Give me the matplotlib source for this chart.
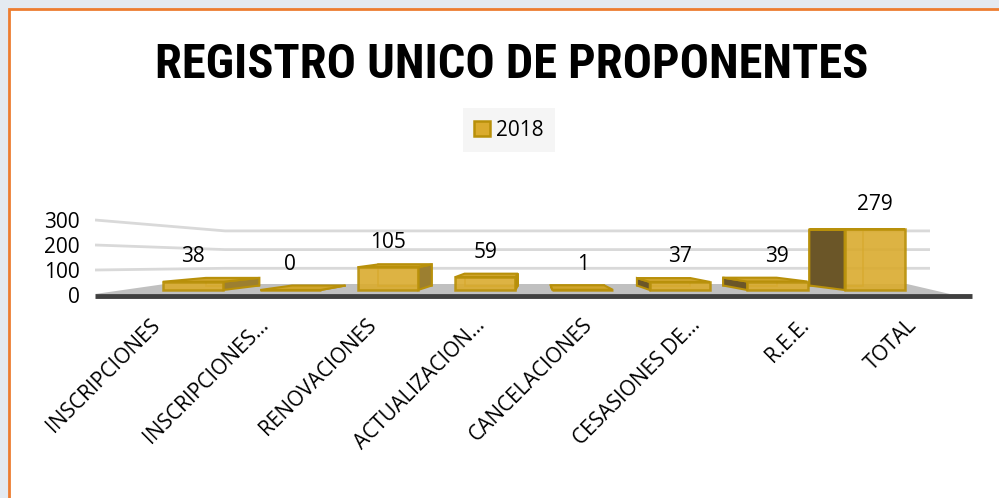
import matplotlib
matplotlib.use("Agg")
import matplotlib.pyplot as plt
from matplotlib.patches import Polygon, Rectangle
from matplotlib import font_manager as fm

# ---------------- data ----------------
categories = ["INSCRIPCIONES", "INSCRIPCIONES...", "RENOVACIONES",
              "ACTUALIZACION...", "CANCELACIONES", "CESASIONES DE...",
              "R.E.E.", "TOTAL"]
values_2018 = [38, 0, 105, 59, 1, 37, 39, 279]
series_name = "2018"
yticks = [0, 100, 200, 300]
title = "REGISTRO UNICO DE PROPONENTES"

# ---------------- style ----------------
plt.rcParams["font.family"] = ["Open Sans", "DejaVu Sans"]
FRONT = "#DAAB2E"
EDGE = "#B8900A"
TOP = "#D0A52C"
SIDE_R = "#9C7F30"
SIDE_L = "#6B5628"

W, H = 999, 498
fig = plt.figure(figsize=(W / 100, H / 100), dpi=100)

# frame / background
fig.patches.append(Rectangle((0, 0), 1, 1, transform=fig.transFigure,
                             facecolor="#e4eaf1", edgecolor="none", zorder=-10))
fig.patches.append(Rectangle((9 / W, -0.1), 1.1, (H - 9) / H + 0.1,
                             transform=fig.transFigure, facecolor="white",
                             edgecolor="#ED7D31", linewidth=2, zorder=-9))

# layout constants (pixels)
X0, DX = 193.0, 97.4      # first category centre, category spacing
Y0, SY = 290.0, 0.217     # base line, px per unit of value
ax = fig.add_axes([95 / W, (H - 300) / H, 880 / W, 120 / H])
ax.set_xlim((95 - X0) / DX, (975 - X0) / DX)
ax.set_ylim((Y0 - 300) / SY, (Y0 - 180) / SY)
ax.patch.set_visible(False)
for s in ax.spines.values():
    s.set_visible(False)

def px_x(p):
    return (p - X0) / DX

def px_y(p):
    return (Y0 - p) / SY

# perspective of the pseudo 3-D bars
XV, YV, KX, KY = 3.54, 276.0, 0.115, 0.075

def back(x, y):
    return (x + (XV - x) * KX, y + (YV - y) * KY)

# walls: gridlines
def wall_left(t):
    return px_y(295 - 0.25 * t)

def wall_back(t):
    return px_y(287 - 0.187 * t)

xl, xc, xr = ax.get_xlim()[0], px_x(225), px_x(930)
for t in yticks[1:]:
    ax.plot([xl, xc, xr], [wall_left(t), wall_back(t), wall_back(t)],
            color="#d9d9d9", lw=2, zorder=0.5, solid_capstyle="butt")

# floor
floor = Polygon([(xl, px_y(294)), (px_x(950), px_y(294)),
                 (px_x(907), px_y(284)), (px_x(165), px_y(284))],
                closed=True, facecolor="#c0c0c0", edgecolor="none", zorder=1)
ax.add_patch(floor)
ax.plot([xl, px_x(972)], [px_y(295.5)] * 2, color="#404040", lw=3.5,
        solid_capstyle="butt", zorder=1.5)

# bars
BW = 0.62
xs = list(range(len(categories)))
for i, v in zip(xs, values_2018):
    x0, x1 = i - BW / 2, i + BW / 2
    # back face outline
    bk = [back(x0, 0), back(x1, 0), back(x1, v), back(x0, v)]
    ax.add_patch(Polygon(bk, closed=True, facecolor="none", edgecolor=EDGE,
                         lw=1.2, alpha=0.7, zorder=2))
    if i < XV:
        side = [(x1, 0), (x1, v), back(x1, v), back(x1, 0)]
        sc = SIDE_R
    else:
        side = [(x0, 0), (x0, v), back(x0, v), back(x0, 0)]
        sc = SIDE_L
    ax.add_patch(Polygon(side, closed=True, facecolor=sc, edgecolor=EDGE,
                         lw=1.5, zorder=2.5))
    topf = [(x0, v), (x1, v), back(x1, v), back(x0, v)]
    ax.add_patch(Polygon(topf, closed=True, facecolor=TOP, edgecolor=EDGE,
                         lw=1.5, zorder=3))

bars = ax.bar(xs, values_2018, width=BW, color=FRONT, edgecolor=EDGE,
              linewidth=1.8, alpha=0.9, zorder=4, label=series_name)

for i, v in zip(xs, values_2018):
    ax.annotate(str(v), (i, v), xytext=(0, 18), textcoords="offset points",
                ha="center", va="center", fontsize=15, color="#000000",
                zorder=6)

# axes ticks
ax.set_yticks([wall_left(t) for t in yticks])
ax.set_yticklabels([str(t) for t in yticks], fontsize=15)
ax.tick_params(axis="y", length=0, pad=11)
ax.set_xticks([XV + (i - XV) * 1.11 - 0.055 for i in xs])
ax.set_xticklabels(categories, rotation=45, ha="right",
                   rotation_mode="anchor", fontsize=15)
ax.tick_params(axis="x", length=0, pad=10.5)

# legend
leg = ax.legend(handles=[bars], labels=[series_name], loc="center",
                bbox_to_anchor=(509 / W, 1 - 130 / H),
                bbox_transform=fig.transFigure, frameon=True,
                facecolor="#f5f5f5", edgecolor="none", framealpha=1,
                fancybox=False, fontsize=15, handlelength=0.75,
                handleheight=0.75, handletextpad=0.3, borderpad=0.55)
for h in leg.legend_handles:
    h.set_alpha(1)

# title (fit to width of the reference)
names = {f.name for f in fm.fontManager.ttflist}
if "Liberation Sans Narrow" in names:
    tfam = ["Liberation Sans Narrow"]
elif "Roboto Condensed" in names:
    tfam = ["Roboto Condensed", "Roboto"]
else:
    tfam = ["Roboto"]
ttl = fig.text(511.5 / W, 1 - 78 / H, title, ha="center", va="baseline",
               fontweight="bold", fontsize=34, family=tfam)
r = fig.canvas.get_renderer()
wpx = ttl.get_window_extent(r).width
ttl.set_fontsize(34 * 713 / wpx)

fig.savefig("out.png", dpi=100)
